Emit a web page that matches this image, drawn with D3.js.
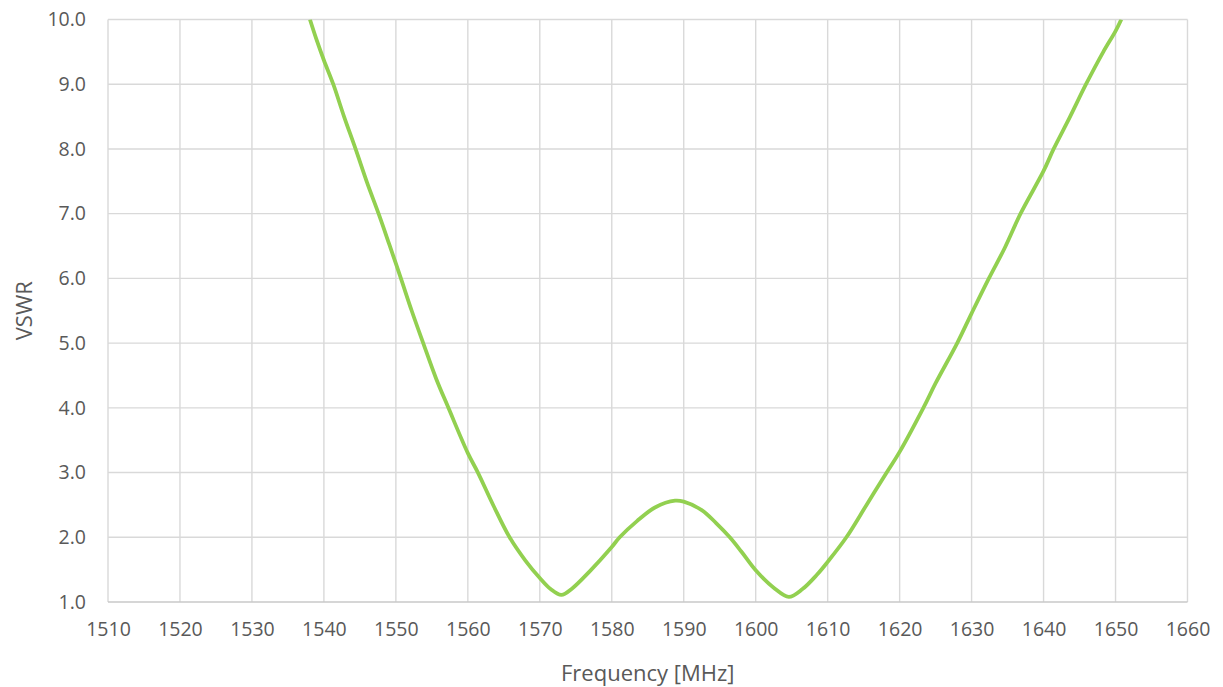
<!DOCTYPE html>
<html>
<head>
<meta charset="utf-8">
<script src="https://cdn.jsdelivr.net/npm/d3@7"></script>
<style>
  body { margin: 0; background: #fff; }
  svg text { font-family: "Open Sans", "Noto Sans", sans-serif; fill: #595959; }
</style>
</head>
<body>
<svg id="chart" width="1223" height="687"></svg>
<script>
var freqs = [1538.06, 1539.0, 1540.0, 1541.3, 1542.8, 1544.4, 1546.0, 1547.6, 1549.1, 1550.7,
             1552.2, 1553.8, 1555.6, 1557.3, 1560.0, 1561.4, 1563.6, 1565.8, 1568.0, 1570.0,
             1571.5, 1573.0, 1574.5, 1576.9, 1580.0, 1581.1, 1583.5, 1586.0, 1588.8, 1590.0,
             1592.5, 1594.5, 1596.4, 1598.0, 1600.0, 1602.5, 1604.6, 1606.5, 1608.5, 1610.0,
             1612.6, 1615.4, 1618.2, 1620.0, 1623.3, 1625.0, 1628.0, 1630.0, 1632.4, 1634.6,
             1636.8, 1640.0, 1641.4, 1643.6, 1645.9, 1648.3, 1650.0, 1650.8];
var vswr  = [10.0, 9.68, 9.37, 9.0, 8.5, 8.0, 7.48, 7.0, 6.52, 6.0,
             5.5, 5.0, 4.45, 4.0, 3.3, 3.0, 2.48, 2.0, 1.64, 1.37,
             1.2, 1.11, 1.21, 1.47, 1.85, 2.0, 2.25, 2.46, 2.565, 2.55,
             2.42, 2.22, 2.0, 1.78, 1.49, 1.22, 1.08, 1.2, 1.42, 1.62,
             2.0, 2.5, 3.0, 3.32, 4.0, 4.38, 5.0, 5.46, 6.0, 6.47,
             7.0, 7.66, 8.0, 8.48, 9.0, 9.5, 9.82, 10.0];

var xTicks = d3.range(1510, 1661, 10);
var yTicks = d3.range(1, 10.01, 1);

var svg = d3.select("#chart");
var margin = {top: 19.5, right: 35.5, bottom: 85, left: 108};
var W = 1223 - margin.left - margin.right;
var H = 687 - margin.top - margin.bottom;

var x = d3.scaleLinear().domain([1510, 1660]).range([0, W]);
var y = d3.scaleLinear().domain([1, 10]).range([H, 0]);

var g = svg.append("g").attr("transform", "translate(" + margin.left + "," + margin.top + ")");

// grid
g.append("g").selectAll("line").data(xTicks).enter().append("line")
    .attr("x1", function(d) { return x(d); }).attr("x2", function(d) { return x(d); })
    .attr("y1", 0).attr("y2", H)
    .attr("stroke", "#d9d9d9").attr("stroke-width", 1.4);
g.append("g").selectAll("line").data(yTicks).enter().append("line")
    .attr("x1", 0).attr("x2", W)
    .attr("y1", function(d) { return y(d); }).attr("y2", function(d) { return y(d); })
    .attr("stroke", function(d) { return d === 1 ? "#c8c8c8" : "#d9d9d9"; })
    .attr("stroke-width", 1.4);

// axes (labels only)
var xAxis = g.append("g").attr("transform", "translate(0," + H + ")")
    .call(d3.axisBottom(x).tickValues(xTicks).tickSize(0).tickPadding(20).tickFormat(d3.format("d")));
var yAxis = g.append("g")
    .call(d3.axisLeft(y).tickValues(yTicks).tickSize(0).tickPadding(22).tickFormat(d3.format(".1f")));
[xAxis, yAxis].forEach(function(a) {
    a.select(".domain").remove();
    a.selectAll("text").style("font-size", "19.5px").attr("fill", "#595959");
});

// curve
var pts = freqs.map(function(f, i) { return [f, vswr[i]]; });
g.append("clipPath").attr("id", "clip").append("rect")
    .attr("x", 0).attr("y", 0).attr("width", W).attr("height", H);
g.append("path")
    .datum(pts)
    .attr("clip-path", "url(#clip)")
    .attr("fill", "none")
    .attr("stroke", "#92d050")
    .attr("stroke-width", 3.8)
    .attr("stroke-linejoin", "round")
    .attr("d", d3.line()
        .x(function(d) { return x(d[0]); })
        .y(function(d) { return y(d[1]); })
        .curve(d3.curveCatmullRom.alpha(0.5)));

// titles
svg.append("text")
    .attr("x", margin.left + W / 2).attr("y", 681)
    .attr("text-anchor", "middle")
    .style("font-size", "22px")
    .text("Frequency [MHz]");
svg.append("text")
    .attr("transform", "translate(32," + (margin.top + H / 2) + ") rotate(-90)")
    .attr("text-anchor", "middle")
    .style("font-size", "22px")
    .text("VSWR");
</script>
</body>
</html>
